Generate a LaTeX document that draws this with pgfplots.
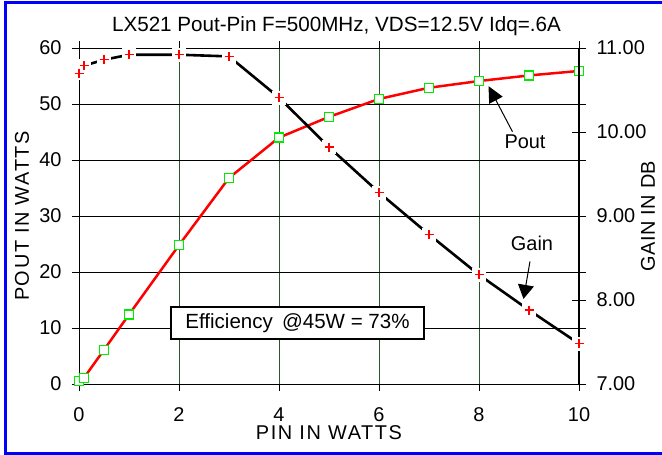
\documentclass[border=0pt]{standalone}
\usepackage{pgfplots}
\pgfplotsset{compat=1.18}
\usepackage{fontspec}
\setmainfont{Liberation Sans}
\usetikzlibrary{arrows.meta}
\definecolor{gridgreen}{RGB}{45,85,45}
\definecolor{mkgreen}{RGB}{0,235,0}
\definecolor{bord}{RGB}{0,0,255}
\newcommand{\fs}{\fontsize{20}{22}\selectfont}
\newfontfamily\spaced[LetterSpace=8]{Liberation Sans}
\newfontfamily\spacedb[LetterSpace=2]{Liberation Sans}
\begin{document}
\begin{tikzpicture}
\path[use as bounding box] (0bp,0bp) rectangle (662bp,455bp);
\fill[white] (0bp,0bp) rectangle (662bp,455bp);
\draw[bord, line width=3bp] (662bp,452.5bp) -- (5.5bp,452.5bp) -- (5.5bp,1.5bp) -- (662bp,1.5bp);
\begin{axis}[
  at={(79bp,71bp)}, anchor=south west, scale only axis,
  width=500bp, height=336bp,
  xmin=0, xmax=10, ymin=0, ymax=60,
  xtick={0,2,...,10}, ytick={0,10,...,60},
  axis line style={black, line width=0.8bp},
  tick align=outside, major tick length=7bp,
  tick style={black, line width=0.8bp},
  xmajorgrids, ymajorgrids,
  x grid style={gridgreen, line width=0.9bp},
  y grid style={black, line width=0.8bp},
  ticklabel style={font=\fs},
  /pgf/number format/assume math mode=true,
  xticklabel style={yshift=-13bp},
  yticklabel style={xshift=-7bp},
  title={LX521 Pout-Pin F=500MHz, VDS=12.5V Idq=.6A},
  title style={font=\fontsize{20.7}{22}\selectfont, at={(axis description cs:0.515,1.048)}, anchor=center},
  xlabel={PIN IN WATTS},
  xlabel style={font=\fs\spaced, at={(axis description cs:0.5,-0.146)}, anchor=center},
  ylabel={POUT IN WATTS},
  ylabel style={font=\fs\spaced, at={(axis description cs:-0.114,0.5)}, anchor=center},
]
\addplot[red, line width=2.5bp, mark=square*, mark size=4.5bp,
  mark options={draw=mkgreen, fill=white, line width=1.3bp}] table {
x y
0 0.5
0.1 1.1
0.5 6.1
1 12.4
2 24.8
3 36.8
4 44.0
5 47.7
6 50.9
7 52.9
8 54.1
9 55.1
10 55.9
};
\node[font=\fontsize{20.6}{22}\selectfont, draw, fill=white, line width=1.4bp, minimum width=253bp, minimum height=32bp, inner sep=0pt]
  at (axis cs:4.37,10.9) {Efficiency\hspace{0.45em}@45W = 73\%};
\node[font=\fs] at (axis cs:8.92,43.2) {Pout};
\draw[line width=1bp, -{Triangle[length=16bp,width=15bp]}] (axis cs:8.67,45.05) -- (axis cs:8.19,53.2);
\node[font=\fs] at (axis cs:9.06,25.2) {Gain};
\draw[line width=1bp, -{Triangle[length=14bp,width=16bp]}] (axis cs:9.02,21.9) -- (axis cs:8.89,15.2);
\end{axis}
\begin{axis}[
  at={(79bp,71bp)}, anchor=south west, scale only axis,
  width=500bp, height=336bp,
  xmin=0, xmax=10, ymin=7, ymax=11,
  axis x line=none, axis y line*=right,
  y axis line style={black, line width=2.5bp, -},
  ytick={7,8,...,11},
  tick align=center, major tick length=14bp,
  tick style={black, line width=0.9bp},
  ticklabel style={font=\fs},
  /pgf/number format/assume math mode=true,
  yticklabel style={xshift=7bp, /pgf/number format/.cd, fixed, fixed zerofill, precision=2},
  ylabel={GAIN IN DB},
  ylabel style={font=\fs\spacedb, at={(axis description cs:1.138,0.5)}, anchor=center},
]
\addplot[black, line width=2.6bp] table {
x y
0 10.70
0.1 10.79
0.5 10.86
1 10.92
2 10.92
3 10.90
4 10.41
5 9.82
6 9.28
7 8.78
8 8.30
9 7.88
10 7.48
};
\addplot[white, only marks, mark=square*, mark size=6.5bp, mark options={draw=white, fill=white}] table {
x y
0 10.70
0.1 10.79
0.5 10.86
1 10.92
2 10.92
3 10.90
4 10.41
5 9.82
6 9.28
7 8.78
8 8.30
9 7.88
10 7.48
};
\addplot[red, only marks, mark=+, mark size=4.5bp, mark options={red, line width=1.3bp}] table {
x y
0 10.70
0.1 10.79
0.5 10.86
1 10.92
2 10.92
3 10.90
4 10.41
5 9.82
6 9.28
7 8.78
8 8.30
9 7.88
10 7.48
};
\end{axis}
\end{tikzpicture}
\end{document}
